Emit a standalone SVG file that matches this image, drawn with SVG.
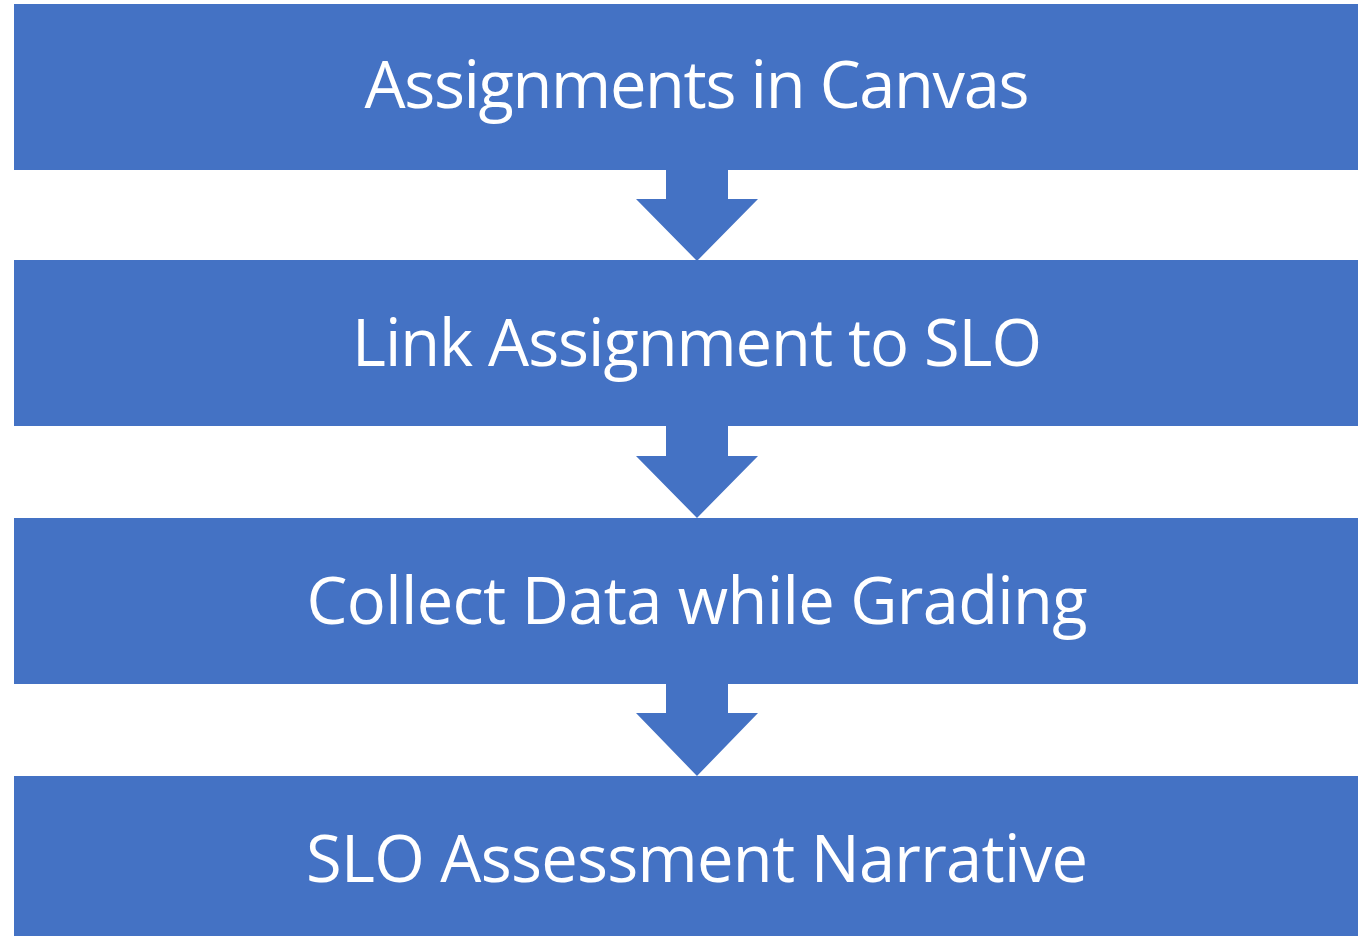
<svg xmlns="http://www.w3.org/2000/svg" width="1358" height="936" viewBox="0 0 1358 936">
<style>
.box{fill:#4472C4;}
.arrow{fill:#4472C4;}
.lbl{fill:#FFFFFF;font-family:"Open Sans","Noto Sans",sans-serif;font-size:65px;text-anchor:middle;}
</style>
<rect width="1358" height="936" fill="#FFFFFF"/>
<g id="n1"><rect class="box" x="14" y="4" width="1360" height="166"/><text class="lbl" x="697" y="108" textLength="665" lengthAdjust="spacing">Assignments in Canvas</text></g>
<g id="n2"><rect class="box" x="14" y="260" width="1360" height="166"/><text class="lbl" x="697" y="366" textLength="690" lengthAdjust="spacing">Link Assignment to SLO</text></g>
<g id="n3"><rect class="box" x="14" y="518" width="1360" height="166"/><text class="lbl" x="697" y="624" textLength="781" lengthAdjust="spacing">Collect Data while Grading</text></g>
<g id="n4"><rect class="box" x="14" y="776" width="1360" height="166"/><text class="lbl" x="697" y="882" textLength="782" lengthAdjust="spacing">SLO Assessment Narrative</text></g>
<g id="connectors">
<polygon class="arrow" points="666,170 728,170 728,199 758,199 697,261 636,199 666,199"/>
<polygon class="arrow" points="666,426 728,426 728,456 758,456 697,518 636,456 666,456"/>
<polygon class="arrow" points="666,684 728,684 728,713 758,713 697,776 636,713 666,713"/>
</g>
</svg>
